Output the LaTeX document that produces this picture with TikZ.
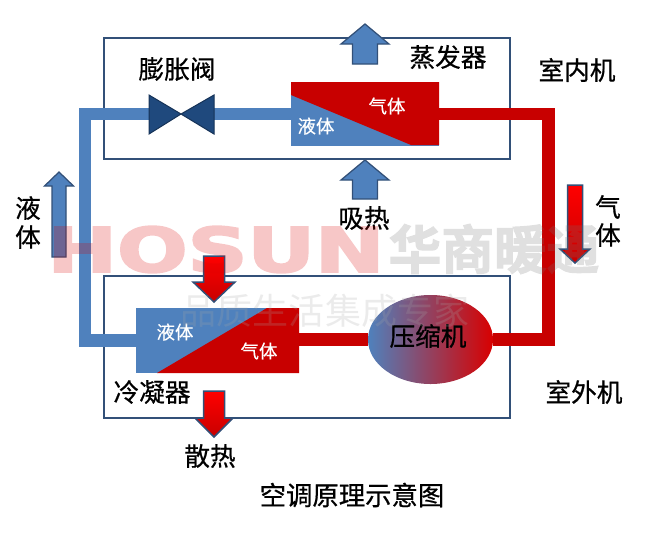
\documentclass[tikz,border=0pt]{standalone}
\usepackage{fontspec}
\setmainfont[FakeBold=0.6]{Noto Sans CJK SC}
\newfontfamily\whitefont[FakeBold=0.2]{Noto Sans CJK SC}
\newfontfamily\wmfont[FakeBold=3]{DejaVu Sans Bold}
\newfontfamily\wmcnfont[FakeBold=2]{Noto Sans CJK SC Bold}
\newfontfamily\sloganfont{Noto Sans CJK SC}
\usetikzlibrary{shapes.geometric}
\definecolor{pipeblue}{RGB}{79,129,189}
\definecolor{pipered}{RGB}{200,0,0}
\definecolor{valveblue}{RGB}{31,73,125}
\definecolor{edgeblue}{RGB}{50,80,120}
\definecolor{compmid}{RGB}{170,70,115}
% x tip, y tip, y of head base, y of tail, half head, half tail
\newcommand{\fatarrow}[7]{
	\draw[#1] (#2,#3) -- (#2+#6,#4) -- (#2+#7,#4) -- (#2+#7,#5)
		-- (#2-#7,#5) -- (#2-#7,#4) -- (#2-#6,#4) -- cycle;
}
\tikzset{
	roombox/.style={draw=edgeblue, line width=0.35mm, minimum width=81.2mm},
	bluepipe/.style={draw=pipeblue, line width=2.5mm},
	redpipe/.style={draw=pipered, line width=2.5mm},
	exchanger/.style={fill=pipeblue, minimum height=12.8mm, inner sep=0pt},
	bluearrow/.style={fill=pipeblue, draw=edgeblue, line width=0.25mm},
	redarrow/.style={top color=red, bottom color=pipered, draw=edgeblue, line width=0.3mm},
	label/.style={font=\fontsize{14.6}{15}\selectfont, inner sep=0pt},
	whitelabel/.style={font=\whitefont\fontsize{10.5}{11}\selectfont, text=white, inner sep=0pt},
	watermark/.style={inner sep=0pt}
}
\begin{document}
\begin{tikzpicture}[x=0.2mm, y=-0.2mm]
	\useasboundingbox (0,0) rectangle (650,550);
	\node[roombox, minimum height=24.2mm] (indoor) at (307,98.5) {};
	\node[roombox, minimum height=28.4mm] (outdoor) at (307,347) {};

	\node[exchanger, minimum width=29.6mm] (evap) at (365,114) {};
	\fill[pipered] (291,82) -- (439,82) -- (439,145) -- (411,145) -- (291,95) -- cycle;
	\node[exchanger, minimum width=32.6mm, minimum height=13mm] (cond) at (217.5,340.5) {};
	\fill[pipered] (157,373) -- (267,308) -- (299,308) -- (299,373) -- cycle;
	\node[ellipse, left color=pipeblue, middle color=compmid, right color=red!85!black, minimum width=25mm, minimum height=17.8mm, inner sep=0pt] (comp) at (430.5,339.5) {};
	\coordinate (valveleft) at (149,114);
	\coordinate (valveright) at (214,114);
	\coordinate (bluebend) at (85,340.5);
	\coordinate (redbend) at (548.5,339.5);

	\draw[bluepipe] (evap.west) -- (valveright);
	\draw[bluepipe] (valveleft) -| (bluebend) -- (cond.west);
	\draw[redpipe] (evap.east) -| (redbend) -- (comp.east);
	\draw[redpipe] (comp.west) -- (comp.west -| cond.east);

	\draw[fill=valveblue, draw=valveblue!70!black, line width=0.2mm]
		(149,95) -- (181,114) -- (149,134) -- cycle
		(214,95) -- (181,114) -- (214,134) -- cycle;

	\fatarrow{bluearrow}{365}{24}{44}{64}{24}{12.5}
	\fatarrow{bluearrow}{365}{160}{180}{199}{24}{12.5}
	\fatarrow{bluearrow}{59}{172}{186}{257}{14.5}{7}
	\fatarrow{redarrow}{214}{302}{282}{256}{21}{10.5}
	\fatarrow{redarrow}{214}{437}{418}{391}{19}{10.5}
	\fatarrow{redarrow}{575}{263}{249}{185}{15}{7.5}

	\node[label] (valvetext) at (177,69) {膨胀阀};
	\node[label] (evaptext) at (448,57) {蒸发器};
	\node[label] (indoortext) at (577,70) {室内机};
	\node[label] (absorbtext) at (364,218) {吸热};
	\node[label] (liquidtop) at (28,208) {液};
	\node[label] (liquidbot) at (28,237) {体};
	\node[label] (gastop) at (608,207) {气};
	\node[label] (gasbot) at (608,235) {体};
	\node[label] (comptext) at (428,336) {压缩机};
	\node[label] (condtext) at (152,392) {冷凝器};
	\node[label] (outdoortext) at (584,392) {室外机};
	\node[label] (releasetext) at (210,456) {散热};
	\node[label, font=\fontsize{15}{16}\selectfont] (title) at (352,495) {空调原理示意图};
	\node[whitelabel] (evapliquid) at (316,126) {液体};
	\node[whitelabel] (evapgas) at (387,106) {气体};
	\node[whitelabel] (condliquid) at (175,332) {液体};
	\node[whitelabel] (condgas) at (259,351) {气体};

	\begin{scope}[transparency group, opacity=0.22]
		\node[watermark, text=red!85!black, font=\wmfont\fontsize{35}{36}\selectfont, xscale=1.35] (wmlatin) at (216,249.5) {HOSUN};
		\node[watermark, text=black!55, font=\wmcnfont\fontsize{30}{31}\selectfont] (wmcn) at (494,249) {华商暖通};
		\node[watermark, text=black!35, font=\sloganfont\fontsize{20.5}{21}\selectfont] (wmslogan) at (325,311) {品质生活集成专家};
	\end{scope}
\end{tikzpicture}
\end{document}
